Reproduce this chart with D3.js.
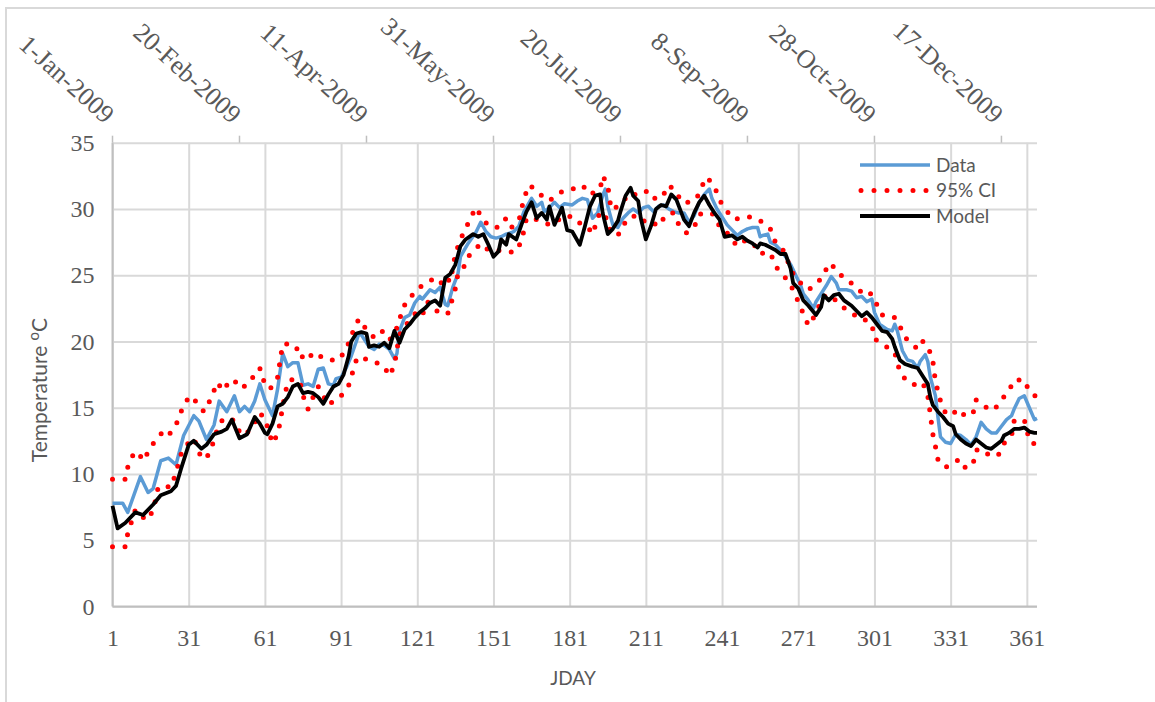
<!DOCTYPE html>
<html>
<head>
<meta charset="utf-8">
<script src="https://cdn.jsdelivr.net/npm/d3@7/dist/d3.min.js"></script>
<style>
  html, body { margin: 0; padding: 0; background: #fff; }
  svg { display: block; }
</style>
</head>
<body>
<svg id="chart" width="1155" height="702"></svg>
<script>
// Day-of-year ticks on the bottom axis and calendar ticks on the top axis
const jdayTicks = [1, 31, 61, 91, 121, 151, 181, 211, 241, 271, 301, 331, 361];
const dateTickDays = [1, 51, 101, 151, 201, 251, 301, 351];
const dateTickLabels = ["1-Jan-2009", "20-Feb-2009", "11-Apr-2009", "31-May-2009",
                        "20-Jul-2009", "8-Sep-2009", "28-Oct-2009", "17-Dec-2009"];
const tempTicks = [0, 5, 10, 15, 20, 25, 30, 35];

// Observed water temperature, [JDAY, °C]
const dataSeries = [
  [1,7.8],[5,7.8],[7,7.1],[12,9.8],[15,8.6],[17,8.9],[20,11.0],[23,11.2],[26,10.7],[29,12.9],
  [33,14.4],[35,14.0],[38,12.6],[41,13.7],[43,15.5],[46,14.7],[49,15.9],[51,14.7],[53,15.1],[55,14.7],
  [57,15.5],[59,16.8],[61,15.6],[64,14.4],[66,16.4],[68,19.1],[70,18.1],[72,18.4],[74,18.4],[76,16.7],
  [78,16.8],[80,16.6],[82,17.9],[84,18.0],[86,16.8],[88,16.7],[89,17.2],[91,17.3],[93,18.0],[95,18.9],
  [97,20.0],[98,20.6],[99,20.5],[102,19.6],[104,19.4],[106,19.8],[108,19.7],[110,19.4],[112,18.7],[113,19.1],
  [114,20.8],[116,21.8],[118,22.0],[120,22.9],[122,23.4],[123,23.2],[126,23.9],[128,23.7],[130,24.1],[132,22.8],
  [133,22.7],[135,24.1],[137,25.1],[138,26.4],[141,27.4],[144,28.2],[146,29.0],[148,28.3],[150,27.9],[152,27.8],
  [154,27.9],[156,28.1],[158,28.2],[159,28.3],[161,28.7],[163,29.8],[166,30.8],[168,30.2],[170,30.5],[171,29.8],
  [173,30.1],[175,30.5],[177,30.1],[179,30.4],[182,30.3],[184,30.6],[186,30.8],[188,30.7],[189,30.0],[190,29.3],
  [192,29.7],[194,31.0],[195,31.5],[196,30.2],[198,28.8],[200,28.6],[202,29.3],[204,29.7],[206,30.0],[208,29.7],
  [210,30.1],[212,30.2],[214,29.8],[216,30.2],[218,30.3],[220,30.0],[222,29.8],[224,29.7],[226,29.7],[228,29.0],
  [230,29.5],[232,30.5],[234,31.1],[236,31.5],[237,30.8],[239,30.0],[241,29.4],[243,28.8],[245,28.4],[247,28.0],
  [249,28.3],[251,28.5],[253,28.6],[255,28.6],[256,27.9],[257,28.0],[259,28.1],[260,27.5],[262,27.3],[264,26.9],
  [266,26.4],[268,25.8],[270,25.0],[272,24.2],[273,23.6],[275,23.1],[277,22.5],[278,23.0],[280,23.6],[282,24.2],
  [284,24.9],[286,24.4],[287,23.9],[290,23.9],[292,23.8],[294,23.3],[296,23.4],[298,23.0],[300,23.2],[301,22.2],
  [303,21.3],[306,20.9],[308,20.8],[309,21.3],[310,20.8],[312,19.3],[314,18.6],[316,18.5],[318,18.0],[319,18.5],
  [321,19.0],[322,18.5],[323,17.3],[325,15.9],[326,14.3],[327,12.8],[329,12.4],[331,12.3],[333,13.0],[335,12.9],
  [337,12.6],[339,12.2],[341,12.8],[343,13.9],[345,13.4],[347,13.1],[349,13.1],[351,13.6],[353,14.1],[355,14.4],
  [356,14.9],[358,15.7],[360,15.9],[362,15.0],[364,14.1],[365,14.2]
];

// Simulated temperature, [JDAY, °C]
const modelSeries = [
  [1,7.6],[3,5.9],[6,6.3],[10,7.1],[13,6.9],[17,7.7],[20,8.4],[24,8.7],[26,9.1],[28,10.4],
  [31,12.2],[33,12.5],[36,11.9],[38,12.2],[41,13.0],[44,13.2],[46,13.4],[48,14.1],[51,12.7],[54,13.0],
  [57,14.3],[59,13.8],[61,13.1],[62,13.0],[64,13.8],[66,15.1],[68,15.3],[70,15.8],[72,16.6],[74,16.8],
  [76,16.1],[78,16.2],[80,16.1],[82,15.8],[84,15.3],[86,16.0],[88,16.6],[90,16.8],[92,17.5],[94,18.9],
  [95,20.0],[97,20.6],[99,20.7],[101,20.6],[102,19.6],[104,19.7],[106,19.6],[108,19.9],[110,19.5],[112,20.8],
  [114,19.9],[116,20.9],[118,21.3],[120,21.8],[122,22.2],[124,22.5],[126,22.9],[128,23.1],[129,22.9],[130,22.7],
  [132,24.8],[134,25.1],[136,25.8],[138,27.2],[140,27.7],[143,28.1],[145,27.9],[147,28.1],[149,27.3],[151,26.4],
  [153,26.8],[154,27.7],[156,27.3],[157,28.1],[160,27.7],[162,28.8],[164,29.8],[166,30.5],[168,29.3],[170,29.7],
  [172,29.2],[173,30.2],[175,28.8],[178,30.1],[180,28.4],[182,28.3],[185,27.3],[187,28.7],[189,30.2],[191,31.0],
  [193,31.1],[194,29.7],[196,28.1],[198,28.5],[200,29.1],[201,29.8],[203,31.0],[205,31.6],[206,31.0],[208,30.6],
  [209,29.3],[211,27.7],[213,28.7],[215,30.0],[217,30.3],[219,30.2],[221,31.1],[223,30.7],[225,29.7],[226,29.2],
  [228,28.7],[230,29.7],[232,30.5],[234,31.0],[236,30.3],[238,29.7],[240,29.2],[242,27.9],[245,28.0],[247,27.7],
  [249,27.9],[251,27.6],[253,27.4],[255,27.1],[256,27.4],[258,27.3],[260,27.1],[262,26.9],[264,26.6],[266,26.6],
  [268,25.5],[269,24.4],[271,24.0],[273,23.1],[275,22.7],[278,22.0],[280,22.6],[281,23.5],[283,23.1],[285,23.5],
  [287,23.6],[289,23.1],[292,22.7],[294,22.3],[296,21.9],[298,22.2],[300,21.8],[302,21.3],[304,20.8],[306,20.7],
  [308,20.2],[309,19.6],[311,18.6],[313,18.3],[316,18.1],[318,18.0],[320,17.4],[322,16.8],[323,15.8],[324,15.2],
  [326,14.7],[328,14.3],[330,13.8],[332,13.6],[333,13.0],[335,12.6],[337,12.3],[339,12.1],[341,12.6],[343,12.3],
  [345,12.0],[347,11.9],[349,12.2],[351,12.5],[352,12.9],[354,13.1],[356,13.4],[358,13.4],[360,13.5],[362,13.2],
  [364,13.1],[365,13.1]
];

// Upper bound of the 95% confidence interval, [JDAY, °C]
const ciUpperSeries = [
  [1,9.6],[6,9.6],[7,10.5],[9,11.4],[11,11.7],[13,11.0],[18,12.6],[21,13.2],[23,12.9],[26,13.7],
  [28,14.7],[30,15.5],[32,15.9],[35,15.2],[37,14.7],[39,15.4],[41,16.3],[42,16.9],[45,16.3],[47,17.1],
  [50,16.9],[51,16.5],[54,16.7],[57,17.5],[59,18.0],[60,17.2],[63,16.4],[66,17.3],[68,19.8],[70,19.8],
  [72,19.4],[75,19.5],[76,18.6],[78,18.8],[81,19.2],[84,18.7],[87,18.6],[90,18.6],[93,19.4],[96,20.9],
  [98,21.7],[101,20.9],[104,20.3],[107,20.8],[110,20.1],[112,20.6],[114,21.5],[115,22.5],[118,23.2],[120,23.8],
  [122,24.1],[125,24.4],[127,24.7],[130,24.3],[132,24.9],[134,24.5],[136,26.6],[138,27.7],[142,29.3],[144,30.1],
  [146,29.5],[149,28.7],[153,28.6],[156,29.3],[158,28.6],[161,29.1],[163,30.8],[165,31.8],[168,31.4],[170,31.0],
  [173,30.6],[176,31.1],[179,31.4],[182,31.5],[186,31.8],[189,31.1],[193,31.5],[194,32.5],[196,31.8],[197,30.4],
  [198,29.9],[202,30.6],[205,31.2],[208,31.0],[212,31.4],[215,30.7],[218,31.1],[220,31.8],[223,31.3],[225,30.5],
  [228,30.5],[231,30.8],[233,31.7],[235,32.4],[238,31.7],[240,30.7],[242,30.0],[246,29.2],[249,29.4],[253,29.4],
  [257,29.0],[260,28.5],[262,27.5],[265,26.9],[269,25.1],[272,24.4],[275,23.9],[278,24.3],[281,25.0],[283,25.9],
  [286,25.5],[289,24.7],[292,24.4],[296,23.7],[299,23.8],[301,22.9],[302,22.8],[304,22.0],[307,22.0],[309,21.8],
  [310,21.6],[313,20.3],[316,19.8],[318,19.4],[320,20.0],[322,19.7],[324,18.5],[325,17.0],[327,15.5],[329,14.6],
  [331,14.4],[334,14.9],[337,14.3],[340,14.7],[341,15.6],[344,15.1],[348,14.8],[351,15.6],[354,16.3],[356,17.1],
  [360,17.1],[362,16.2],[365,15.8]
];

// Lower bound of the 95% confidence interval, [JDAY, °C]
const ciLowerSeries = [
  [1,4.5],[6,4.5],[7,5.5],[10,7.3],[12,7.0],[14,6.5],[17,7.2],[18,8.1],[19,9.0],[21,9.1],
  [24,9.0],[26,10.1],[28,11.5],[31,12.4],[33,12.7],[35,11.7],[36,11.2],[38,11.2],[40,12.0],[42,13.2],
  [44,14.0],[46,14.2],[48,14.2],[50,13.5],[52,12.9],[54,13.1],[57,13.9],[59,14.6],[61,14.2],[64,12.3],
  [66,13.0],[67,13.9],[68,15.1],[70,17.0],[73,17.2],[75,16.8],[77,15.2],[78,14.9],[80,15.8],[82,16.6],
  [86,15.2],[88,15.5],[91,15.9],[94,16.7],[97,18.6],[99,18.9],[102,18.5],[105,18.4],[108,18.1],[110,17.4],
  [112,18.2],[113,19.4],[114,20.5],[116,21.1],[118,21.6],[121,22.3],[123,22.0],[125,23.0],[127,22.6],[130,22.1],
  [133,22.1],[135,23.3],[136,24.0],[137,25.1],[140,25.8],[141,26.4],[144,27.0],[146,27.4],[149,26.9],[152,26.8],
  [154,26.9],[157,26.8],[159,26.7],[162,27.5],[164,29.3],[166,29.3],[170,29.1],[173,28.8],[176,29.1],[179,29.5],
  [182,29.4],[183,29.1],[188,28.7],[190,28.1],[193,29.8],[196,29.2],[197,28.3],[200,28.0],[202,28.8],[206,29.5],
  [209,29.0],[212,29.2],[216,28.7],[219,29.6],[222,29.7],[224,28.8],[227,28.2],[230,28.6],[232,29.6],[237,29.7],
  [240,28.7],[242,28.5],[244,27.9],[247,27.2],[250,27.6],[253,27.5],[256,26.6],[259,26.8],[261,26.3],[263,25.4],
  [266,24.8],[269,23.9],[271,23.0],[273,22.1],[275,21.2],[277,21.8],[281,23.4],[284,23.5],[287,22.8],[290,22.4],
  [293,22.0],[296,21.9],[298,21.5],[300,21.3],[301,20.2],[304,19.8],[309,19.2],[310,18.3],[312,17.4],[315,16.8],
  [318,16.7],[320,16.9],[322,15.9],[323,14.5],[324,13.0],[325,12.1],[326,11.1],[329,10.5],[332,10.9],[335,11.1],
  [337,10.4],[340,10.9],[341,11.8],[343,11.9],[347,11.3],[350,11.5],[352,12.3],[355,12.9],[356,14.0],[360,14.1],
  [361,13.2],[363,12.3],[365,12.3]
];

const svg = d3.select("#chart");

const x = d3.scaleLinear().domain([1, 365]).range([112.5, 1037]);
const y = d3.scaleLinear().domain([0, 35]).range([606.5, 142.7]);

const gridColor = "#d9d9d9";
const axisColor = "#bfbfbf";
const textColor = "#595959";

// outer chart border
svg.append("rect")
  .attr("x", 6).attr("y", 8).attr("width", 1170).attr("height", 720)
  .attr("fill", "none").attr("stroke", gridColor).attr("stroke-width", 2);

// horizontal gridlines + temperature axis labels
const yAxis = d3.axisLeft(y).tickValues(tempTicks).tickSize(-(x.range()[1] - x.range()[0])).tickPadding(18);
svg.append("g")
  .attr("transform", `translate(${x.range()[0]},0)`)
  .call(yAxis)
  .call(g => g.select(".domain").remove())
  .call(g => g.selectAll(".tick line").attr("stroke", gridColor).attr("stroke-width", 2))
  .call(g => g.selectAll(".tick text")
    .attr("fill", textColor)
    .attr("font-family", "'Liberation Serif', serif")
    .attr("font-size", 24));

// vertical gridlines + JDAY labels
const xAxis = d3.axisBottom(x).tickValues(jdayTicks).tickSize(-(y.range()[0] - y.range()[1])).tickPadding(22);
svg.append("g")
  .attr("transform", `translate(0,${y.range()[0]})`)
  .call(xAxis)
  .call(g => g.select(".domain").remove())
  .call(g => g.selectAll(".tick line").attr("stroke", gridColor).attr("stroke-width", 2))
  .call(g => g.selectAll(".tick text")
    .attr("fill", textColor)
    .attr("font-family", "'Liberation Serif', serif")
    .attr("font-size", 24));

// axis lines
svg.append("line")
  .attr("x1", x.range()[0]).attr("x2", x.range()[0])
  .attr("y1", y.range()[1]).attr("y2", y.range()[0])
  .attr("stroke", axisColor).attr("stroke-width", 2);
svg.append("line")
  .attr("x1", x.range()[0]).attr("x2", x.range()[1])
  .attr("y1", y.range()[0]).attr("y2", y.range()[0])
  .attr("stroke", axisColor).attr("stroke-width", 2);

// top calendar axis: tick marks and slanted date labels
const topAxis = svg.append("g");
topAxis.selectAll("line")
  .data(dateTickDays)
  .join("line")
  .attr("x1", d => x(d)).attr("x2", d => x(d))
  .attr("y1", y.range()[1] - 7).attr("y2", y.range()[1])
  .attr("stroke", axisColor).attr("stroke-width", 1.5);
topAxis.selectAll("text")
  .data(dateTickDays)
  .join("text")
  .attr("transform", d => `translate(${x(d) - 8},${y.range()[1] - 18}) rotate(42)`)
  .attr("text-anchor", "end")
  .attr("fill", textColor)
  .attr("font-family", "'Liberation Serif', serif")
  .attr("font-size", 26)
  .text((d, i) => dateTickLabels[i]);

// series
const line = d3.line().x(d => x(d[0])).y(d => y(d[1]));
const plot = svg.append("g").attr("fill", "none").attr("stroke-linejoin", "round");

plot.append("path")
  .attr("d", line(dataSeries))
  .attr("stroke", "#5b9bd5").attr("stroke-width", 3.5);

const dotStyle = p => p
  .attr("stroke", "#ff0000").attr("stroke-width", 5)
  .attr("stroke-linecap", "round").attr("stroke-dasharray", "0 12.5");
plot.append("path").attr("d", line(ciUpperSeries)).call(dotStyle);
plot.append("path").attr("d", line(ciLowerSeries)).call(dotStyle);

plot.append("path")
  .attr("d", line(modelSeries))
  .attr("stroke", "#000").attr("stroke-width", 3.8);

// legend
const legendItems = [
  { label: "Data", color: "#5b9bd5", width: 3.5, dash: null, cap: "butt" },
  { label: "95% CI", color: "#ff0000", width: 5, dash: "0 13", cap: "round" },
  { label: "Model", color: "#000", width: 3.8, dash: null, cap: "butt" }
];
const legend = svg.append("g").attr("transform", "translate(860,165)");
legendItems.forEach((it, i) => {
  const gy = i * 25.5;
  legend.append("line")
    .attr("x1", it.dash ? 1 : 0).attr("x2", 70).attr("y1", gy).attr("y2", gy)
    .attr("stroke", it.color).attr("stroke-width", it.width)
    .attr("stroke-linecap", it.cap)
    .attr("stroke-dasharray", it.dash);
  legend.append("text")
    .attr("x", 76).attr("y", gy).attr("dy", "0.35em")
    .attr("fill", textColor)
    .attr("font-family", "Lato, sans-serif")
    .attr("font-size", 19)
    .text(it.label);
});

// axis titles
svg.append("text")
  .attr("x", 573).attr("y", 685)
  .attr("text-anchor", "middle")
  .attr("fill", textColor)
  .attr("font-family", "Lato, sans-serif")
  .attr("font-size", 19)
  .text("JDAY");

const yTitle = svg.append("text")
  .attr("transform", "translate(47,390) rotate(-90)")
  .attr("text-anchor", "middle")
  .attr("fill", textColor)
  .attr("font-family", "Lato, sans-serif")
  .attr("font-size", 21);
yTitle.append("tspan").text("Temperature ");
yTitle.append("tspan").attr("font-size", 15).attr("dy", -8).text("o");
yTitle.append("tspan").attr("dy", 8).text("C");
</script>
</body>
</html>
